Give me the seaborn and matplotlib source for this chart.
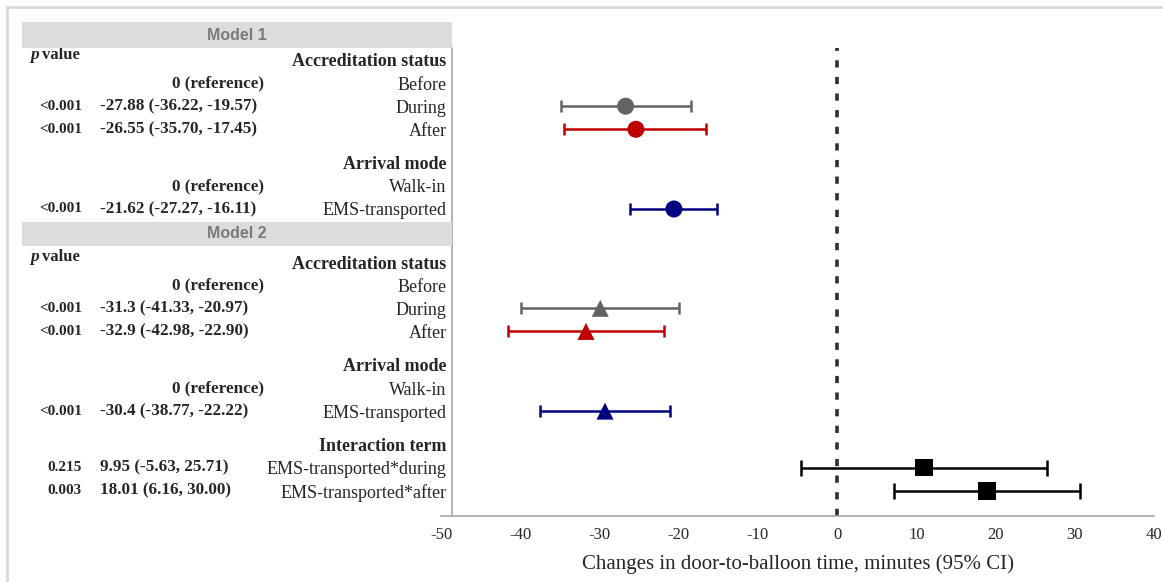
##### Forest plot: door-to-balloon time, Model 1 and Model 2 #####
import numpy as np
import pandas as pd
import matplotlib.pyplot as plt
import matplotlib.transforms as mtransforms
from matplotlib.patches import Rectangle
from matplotlib.ticker import MultipleLocator, AutoMinorLocator
import seaborn as sns

sns.set_style('white')
plt.rcParams['font.family'] = ['Liberation Serif', 'DejaVu Serif']
plt.rcParams['axes.unicode_minus'] = False

##### Data #####
row_labels = ['Accreditation status', 'Before', 'During', 'After',
              'Arrival mode', 'Walk-in', 'EMS-transported',
              'Accreditation status', 'Before', 'During', 'After',
              'Arrival mode', 'Walk-in', 'EMS-transported',
              'Interaction term', 'EMS-transported*during', 'EMS-transported*after']
row_model = [1] * 7 + [2] * 10
row_header = [True, False, False, False, True, False, False,
              True, False, False, False, True, False, False,
              True, False, False]
p_values = ['', '', '<0.001', '<0.001', '', '', '<0.001',
            '', '', '<0.001', '<0.001', '', '', '<0.001',
            '', '0.215', '0.003']
est_text = ['', '0 (reference)', '-27.88 (-36.22, -19.57)', '-26.55 (-35.70, -17.45)',
            '', '0 (reference)', '-21.62 (-27.27, -16.11)',
            '', '0 (reference)', '-31.3 (-41.33, -20.97)', '-32.9 (-42.98, -22.90)',
            '', '0 (reference)', '-30.4 (-38.77, -22.22)',
            '', '9.95 (-5.63, 25.71)', '18.01 (6.16, 30.00)']

# plotted points
pt_row = [2, 3, 6, 9, 10, 13, 15, 16]
pt_series = ['during', 'after', 'ems', 'during', 'after', 'ems', 'inter', 'inter']
pt_shape = ['m1', 'm1', 'm1', 'm2', 'm2', 'm2', 'int', 'int']
pt_est = [-26.7, -25.4, -20.6, -29.9, -31.7, -29.3, 11.0, 18.9]
pt_lo = [-34.9, -34.5, -26.2, -39.9, -41.6, -37.5, -4.5, 7.2]
pt_hi = [-18.5, -16.5, -15.1, -20.0, -21.8, -21.1, 26.5, 30.7]

palette = {'during': '#636363', 'after': '#c00000', 'ems': '#000080', 'inter': '#000000'}

##### Layout helpers #####
W, H = 1163, 582
fx = lambda px: px / W
fy = lambda py: 1 - py / H

# row positions: normal step 1, group header gap, model break gap
ypos = []
y = 0.0
for i, (m, hd) in enumerate(zip(row_model, row_header)):
    if i > 0:
        if m != row_model[i - 1]:
            y += 2.3
        elif hd:
            y += 1.45
        else:
            y += 1
    ypos.append(y)
ypos = np.array(ypos)

df = pd.DataFrame({
    'y': ypos[pt_row], 'series': pt_series, 'shape': pt_shape,
    'est': pt_est, 'lo': pt_lo, 'hi': pt_hi})

##### Figure #####
fig = plt.figure(figsize=(W / 100, H / 100), dpi=100)
ax = fig.add_axes([fx(441), fy(516), fx(1154) - fx(441), (516 - 48) / H])

ax.axvline(0, color='#303030', lw=2.6, ls=(0, (2, 2.6)), zorder=1)

caps = {'m1': 4.5, 'm2': 4.5, 'int': 6}
for _, r in df.iterrows():
    ax.errorbar(r['est'], r['y'], xerr=[[r['est'] - r['lo']], [r['hi'] - r['est']]],
        fmt='none', ecolor=palette[r['series']], elinewidth=1.8,
        capsize=caps[r['shape']], capthick=1.8, zorder=2)

markers = {'m1': ('o', 150), 'm2': ('^', 150), 'int': ('s', 160)}
for shp, (mk, sz) in markers.items():
    sns.scatterplot(ax=ax, data=df[df['shape'] == shp], x='est', y='y',
        hue='series', palette=palette, marker=mk, s=sz,
        linewidth=0, legend=False, zorder=3)

ax.set_xlim(-50, 40)
ax.set_ylim((516 - 60) / 23.1, -12 / 23.1)
ax.xaxis.set_major_locator(MultipleLocator(10))
ax.xaxis.set_minor_locator(AutoMinorLocator(3))

for s in ['top', 'right']:
    ax.spines[s].set_visible(False)
for s in ['left', 'bottom']:
    ax.spines[s].set_color('#a6a6a6')
    ax.spines[s].set_linewidth(1.2)
# y axis line sits a little right of the -50 tick
ax.spines['left'].set_position(('data', -48.6))

ax.set_yticks(ypos)
ax.set_yticklabels(row_labels)
ax.tick_params(axis='y', length=3, width=1, color='#a6a6a6', pad=1, labelsize=13)
ax.tick_params(axis='x', which='major', direction='in', length=5, width=1,
    color='#a6a6a6', labelsize=12, pad=8)
ax.tick_params(axis='x', which='minor', direction='in', length=3, width=1,
    color='#a6a6a6')

ax.set(xlabel=None, ylabel=None)
ax.set_xlabel('Changes in door-to-balloon time, minutes (95% CI)', fontsize=15, labelpad=8)

##### Text columns #####
tr = mtransforms.blended_transform_factory(fig.transFigure, ax.transData)
for yy, p, e in zip(ypos, p_values, est_text):
    if p:
        ax.text(fx(82), yy, p, ha='right', va='center', transform=tr,
            fontsize=11, fontweight='bold')
    if e:
        xe = 172 if e.startswith('0 (') else 100
        ax.text(fx(xe), yy, e, ha='left', va='center', transform=tr,
            fontsize=12.3, fontweight='bold')

for yy, m, hd in zip(ypos, row_model, row_header):
    if hd and (yy == ypos[0] or yy == ypos[7]):
        ax.text(fx(30), yy - 0.22, 'p', ha='left', va='center', transform=tr,
            fontsize=12.5, fontweight='bold', fontstyle='italic')
        ax.text(fx(42), yy - 0.22, 'value', ha='left', va='center', transform=tr,
            fontsize=12, fontweight='bold')

##### Model bands and outer frame #####
for top, bot, name in [(22, 48, 'Model 1'), (222, 246, 'Model 2')]:
    fig.add_artist(Rectangle((fx(22), fy(bot)), fx(452) - fx(22), (bot - top) / H,
        transform=fig.transFigure, facecolor='#dcdcdc', edgecolor='none', zorder=5))
    fig.text(fx(237), fy((top + bot) / 2), name, ha='center', va='center',
        family='Liberation Sans', fontweight='bold', color='#7a7a7a', fontsize=11.5, zorder=6)

fig.add_artist(Rectangle((fx(7), -0.1), 1.2, 1.1 - 7 / H, transform=fig.transFigure,
    fill=False, edgecolor='#d9d9d9', linewidth=2, zorder=0))

# bold group headers (set last so nothing resets them)
for lab, hd in zip(ax.get_yticklabels(), row_header):
    lab.set_fontweight('bold' if hd else 'normal')

plt.savefig('out.png', dpi=100)
